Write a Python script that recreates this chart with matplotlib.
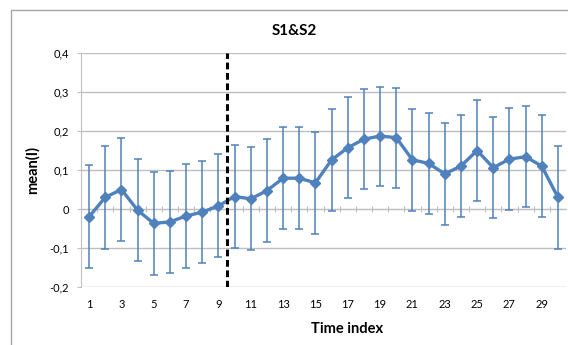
import matplotlib
matplotlib.use("Agg")
import matplotlib.pyplot as plt
import numpy as np
from matplotlib.patches import Rectangle

time_index = list(range(1, 31))
mean_i = [-0.020, 0.030, 0.050, -0.003, -0.037, -0.033, -0.018, -0.008, 0.008, 0.032,
          0.026, 0.047, 0.079, 0.079, 0.067, 0.126, 0.157, 0.179, 0.187, 0.183,
          0.126, 0.117, 0.090, 0.110, 0.150, 0.106, 0.128, 0.134, 0.110, 0.030]
err_i = [0.132, 0.132, 0.132, 0.131, 0.132, 0.131, 0.133, 0.131, 0.132, 0.132,
         0.132, 0.132, 0.131, 0.131, 0.131, 0.131, 0.129, 0.128, 0.127, 0.128,
         0.131, 0.130, 0.131, 0.130, 0.130, 0.130, 0.130, 0.130, 0.130, 0.132]
split_at = 9.5
y_ticks = [-0.2, -0.1, 0.0, 0.1, 0.2, 0.3, 0.4]
y_labels = ["-0,2", "-0,1", "0", "0,1", "0,2", "0,3", "0,4"]
x_labels = [str(i) for i in time_index[::2]]

plt.rcParams['font.family'] = ['Lato', 'DejaVu Sans']
blue = "#4F81BD"
grid = "#BFBFBF"

fig = plt.figure(figsize=(5.68, 3.45), dpi=100)
fig.patches.append(Rectangle((11 / 568, -0.1), 1.2, 1 - 10 / 345 + 0.1,
                             transform=fig.transFigure, fill=False,
                             edgecolor="#A6A6A6", lw=1))
ax = fig.add_axes([81 / 568, 1 - 287 / 345, 485 / 568, 234 / 345])

ax.errorbar(time_index, mean_i, yerr=err_i, color=blue, lw=2.4, marker="D",
            markersize=5.5, ecolor=blue, elinewidth=1.1, capsize=3,
            capthick=1.1, zorder=3)
ax.axvline(split_at, color="black", lw=2.2, ls=(0, (2.2, 1.2)), zorder=4)

ax.set_xlim(0.5, 30.5)
ax.set_ylim(-0.2, 0.4)
ax.set_yticks(y_ticks)
ax.set_yticklabels(y_labels)
ax.set_xticks(time_index[::2])
ax.set_xticklabels(x_labels)
ax.tick_params(axis="x", length=0, pad=9, labelsize=8)
ax.tick_params(axis="y", length=2.6, color=grid, pad=6, labelsize=8)
ax.yaxis.grid(True, color=grid, lw=1)
ax.set_axisbelow(True)
for side in ["top", "right", "bottom"]:
    ax.spines[side].set_visible(False)
ax.spines["left"].set_color(grid)

# category axis crossing at 0 with boundary tick marks
sec = ax.secondary_xaxis(1 / 3)
sec.set_xticks(np.arange(1.5, 30.5, 1))
sec.tick_params(axis="x", direction="inout", length=4, color=grid, labelbottom=False,
                labeltop=False)
sec.spines["bottom"].set_color(grid)
sec.spines["top"].set_visible(False)

ax.set_title("S1&S2", fontsize=11, fontweight="bold", x=(294 - 81) / 485, y=1.0, pad=13)
ax.set_xlabel("Time index", fontsize=10.5, fontweight="bold")
ax.xaxis.set_label_coords((347 - 81) / 485, -0.15)
ax.set_ylabel("mean(I)", fontsize=10.5, fontweight="bold")
ax.yaxis.set_label_coords(-0.085, 0.5)

fig.savefig("out.png", dpi=100)
